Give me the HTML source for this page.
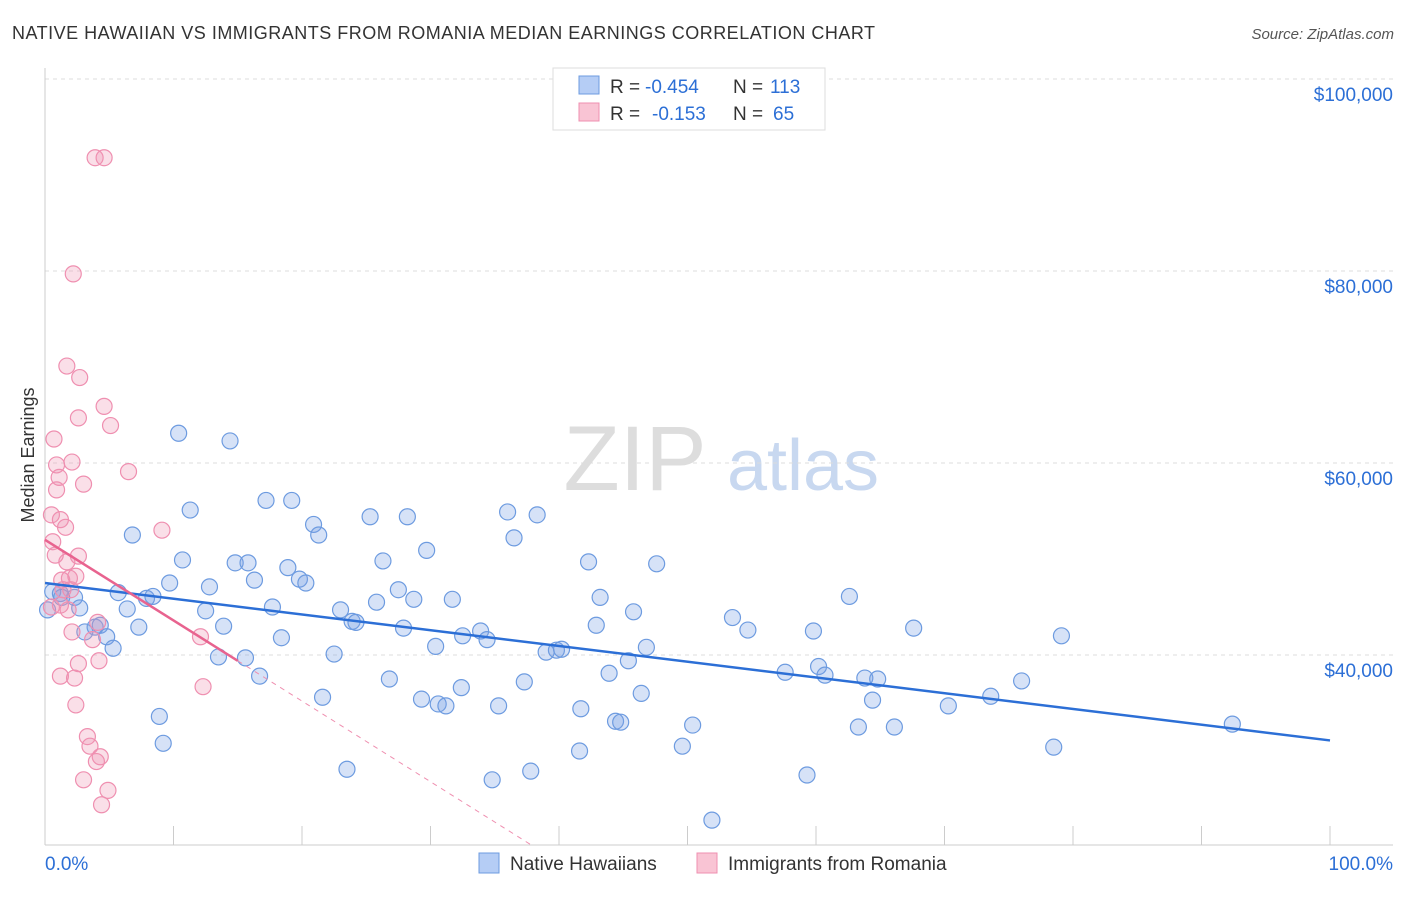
<!DOCTYPE html>
<html><head><meta charset="utf-8"><style>
body{margin:0;background:#fff;font-family:"Liberation Sans",sans-serif;}
svg text{font-family:"Liberation Sans",sans-serif;}
</style></head><body>
<svg width="1406" height="892" xmlns="http://www.w3.org/2000/svg">
<text x="12" y="39" font-size="18" fill="#333" textLength="863">NATIVE HAWAIIAN VS IMMIGRANTS FROM ROMANIA MEDIAN EARNINGS CORRELATION CHART</text>
<text x="1394" y="39" font-size="15" fill="#555" text-anchor="end" font-style="italic">Source: ZipAtlas.com</text>
<text x="34" y="455" font-size="18" fill="#333" transform="rotate(-90 34 455)" text-anchor="middle">Median Earnings</text>
<g><text x="635" y="490" font-size="92" fill="#ddd" font-family="Liberation Serif" text-anchor="middle">ZIP</text><text x="803" y="490" font-size="72" fill="#c8d8f0" text-anchor="middle">atlas</text></g>
<g id="grid"></g><g id="axes"></g><g id="marks"></g>
<g>
<rect x="553" y="68" width="272" height="62" fill="#fff" stroke="#ddd"/>
<rect x="579" y="76" width="20" height="18" fill="#b5cdf5" stroke="#6d9be0"/>
<rect x="579" y="103" width="20" height="18" fill="#f9c4d4" stroke="#ef8fb0"/>
<text x="610" y="93" font-size="19" fill="#333">R = </text><text x="645" y="93" font-size="19" fill="#2c6fd6">-0.454</text><text x="733" y="93" font-size="19" fill="#333">N = </text><text x="770" y="93" font-size="19" fill="#2c6fd6">113</text>
<text x="610" y="120" font-size="19" fill="#333">R = </text><text x="652" y="120" font-size="19" fill="#2c6fd6">-0.153</text><text x="733" y="120" font-size="19" fill="#333">N = </text><text x="773" y="120" font-size="19" fill="#2c6fd6">65</text>
</g>
<g>
<rect x="479" y="853" width="20" height="20" fill="#b5cdf5" stroke="#6d9be0"/>
<text x="510" y="870" font-size="19" fill="#333">Native Hawaiians</text>
<rect x="697" y="853" width="20" height="20" fill="#f9c4d4" stroke="#ef8fb0"/>
<text x="728" y="870" font-size="19" fill="#333">Immigrants from Romania</text>
</g>
<text x="45" y="870" font-size="19" fill="#2c6fd6">0.0%</text>
<text x="1393" y="870" font-size="19" fill="#2c6fd6" text-anchor="end">100.0%</text>
</svg>
<script>
const yTicks=[40000,60000,80000,100000];
const yTickLabels=["$40,000","$60,000","$80,000","$100,000"];
const blueX=[0.6,1.2,2.3,2.7,3.9,4.3,4.8,5.3,5.7,6.4,6.8,7.3,7.9,8.4,8.9,9.2,9.7,10.4,10.7,11.3,12.5,12.8,13.5,13.9,14.4,14.8,15.8,16.3,15.6,16.7,17.2,17.7,18.4,18.9,19.2,19.8,20.3,20.9,21.3,21.6,22.5,23.0,23.5,23.9,24.2,25.3,25.8,26.3,26.8,27.5,27.9,28.2,28.7,29.3,29.7,30.4,30.6,31.2,31.7,32.4,32.5,33.9,34.4,34.8,35.3,36.0,36.5,37.3,37.8,38.3,39.0,39.8,40.2,41.6,41.7,42.3,42.9,43.2,43.9,44.4,44.8,45.4,45.8,46.4,46.8,47.6,49.6,50.4,51.9,53.5,54.7,57.6,59.3,59.8,60.2,60.7,62.6,63.3,63.8,64.4,64.8,66.1,67.6,70.3,73.6,76.0,78.5,79.1,92.4,0.2,1.3,3.1];
const blueY=[46.6,46.4,46.0,44.9,42.9,43.1,41.9,40.7,46.5,44.8,52.5,42.9,45.9,46.1,33.6,30.8,47.5,63.1,49.9,55.1,44.6,47.1,39.8,43.0,62.3,49.6,49.6,47.8,39.7,37.8,56.1,45.0,41.8,49.1,56.1,47.9,47.5,53.6,52.5,35.6,40.1,44.7,28.1,43.5,43.4,54.4,45.5,49.8,37.5,46.8,42.8,54.4,45.8,35.4,50.9,40.9,34.9,34.7,45.8,36.6,42.0,42.5,41.6,27.0,34.7,54.9,52.2,37.2,27.9,54.6,40.3,40.5,40.6,30.0,34.4,49.7,43.1,46.0,38.1,33.1,33.0,39.4,44.5,36.0,40.8,49.5,30.5,32.7,22.8,43.9,42.6,38.2,27.5,42.5,38.8,37.9,46.1,32.5,37.6,35.3,37.5,32.5,42.8,34.7,35.7,37.3,30.4,42.0,32.8,44.7,46.0,42.4];
const pinkX=[3.9,4.6,2.2,1.7,2.7,4.6,5.1,2.6,0.7,2.1,0.9,6.5,0.9,1.1,3.0,0.5,1.2,1.6,9.1,0.6,0.8,2.6,1.7,1.3,1.9,2.4,1.4,2.0,0.5,1.2,1.8,4.1,2.1,3.7,12.1,2.6,1.2,2.3,4.2,12.3,2.4,3.3,3.5,4.3,4.0,3.0,4.9,4.4];
const pinkY=[91.8,91.8,79.7,70.1,68.9,65.9,63.9,64.7,62.5,60.1,59.8,59.1,57.2,58.5,57.8,54.6,54.1,53.3,53.0,51.8,50.4,50.3,49.7,47.8,48.0,48.2,46.8,46.8,45.0,45.2,44.7,43.4,42.4,41.6,41.9,39.1,37.8,37.6,39.4,36.7,34.8,31.5,30.5,29.4,28.9,27.0,25.9,24.4];
const blueTrend=[47.5,31.1];   // value at 0% and 100%
const pinkTrend=[52.0,-0.84]; // intercept, slope per %
const NS="http://www.w3.org/2000/svg";
const xs=p=>45+p*12.85;
const ys=v=>655-(v-40000)*0.0096;
function mk(t,a,parent){const e=document.createElementNS(NS,t);for(const k in a)e.setAttribute(k,a[k]);document.getElementById(parent).appendChild(e);return e;}
yTicks.forEach((v,i)=>{
 const g=mk('line',{x1:45,x2:1393,y1:ys(v),y2:ys(v),stroke:'#ddd','stroke-dasharray':'4,4'},'grid');
 
 
 const t=mk('text',{x:1393,y:ys(v)+22,'font-size':19,fill:'#2c6fd6','text-anchor':'end'},'grid');
 t.textContent=yTickLabels[i];
 
 
});
const ax=mk('line',{x1:45,x2:1393,y1:845,y2:845,stroke:'#ccc'},'axes');


const ay=mk('line',{x1:45,x2:45,y1:68,y2:845,stroke:'#ccc'},'axes');


for(let i=0;i<=10;i++){
 const t=mk('line',{x1:xs(i*10),x2:xs(i*10),y1:826,y2:845,stroke:'#ccc'},'axes');
 
 
}
blueX.forEach((x,i)=>{
 const c=mk('circle',{cx:xs(x),cy:ys(blueY[i]*1000),r:8,fill:'rgba(120,160,230,0.3)',stroke:'#6d9be0','stroke-width':1.2},'marks');
 
 
});
pinkX.forEach((x,i)=>{
 const c=mk('circle',{cx:xs(x),cy:ys(pinkY[i]*1000),r:8,fill:'rgba(240,150,180,0.3)',stroke:'#ef8fb0','stroke-width':1.2},'marks');
 
 
});
const bl=mk('line',{x1:xs(0),y1:ys(blueTrend[0]*1000),x2:xs(100),y2:ys(blueTrend[1]*1000),stroke:'#2c6fd6','stroke-width':2.5},'marks');


const pe=(20.2-pinkTrend[0])/pinkTrend[1];
const pd=mk('line',{x1:xs(15),y1:ys((pinkTrend[0]+pinkTrend[1]*15)*1000),x2:xs(pe),y2:ys(20200),stroke:'#ef8fb0','stroke-width':1,'stroke-dasharray':'5,5'},'marks');


const pl=mk('line',{x1:xs(0),y1:ys(pinkTrend[0]*1000),x2:xs(15),y2:ys((pinkTrend[0]+pinkTrend[1]*15)*1000),stroke:'#e8638f','stroke-width':2.5},'marks');


</script>
</body></html>
